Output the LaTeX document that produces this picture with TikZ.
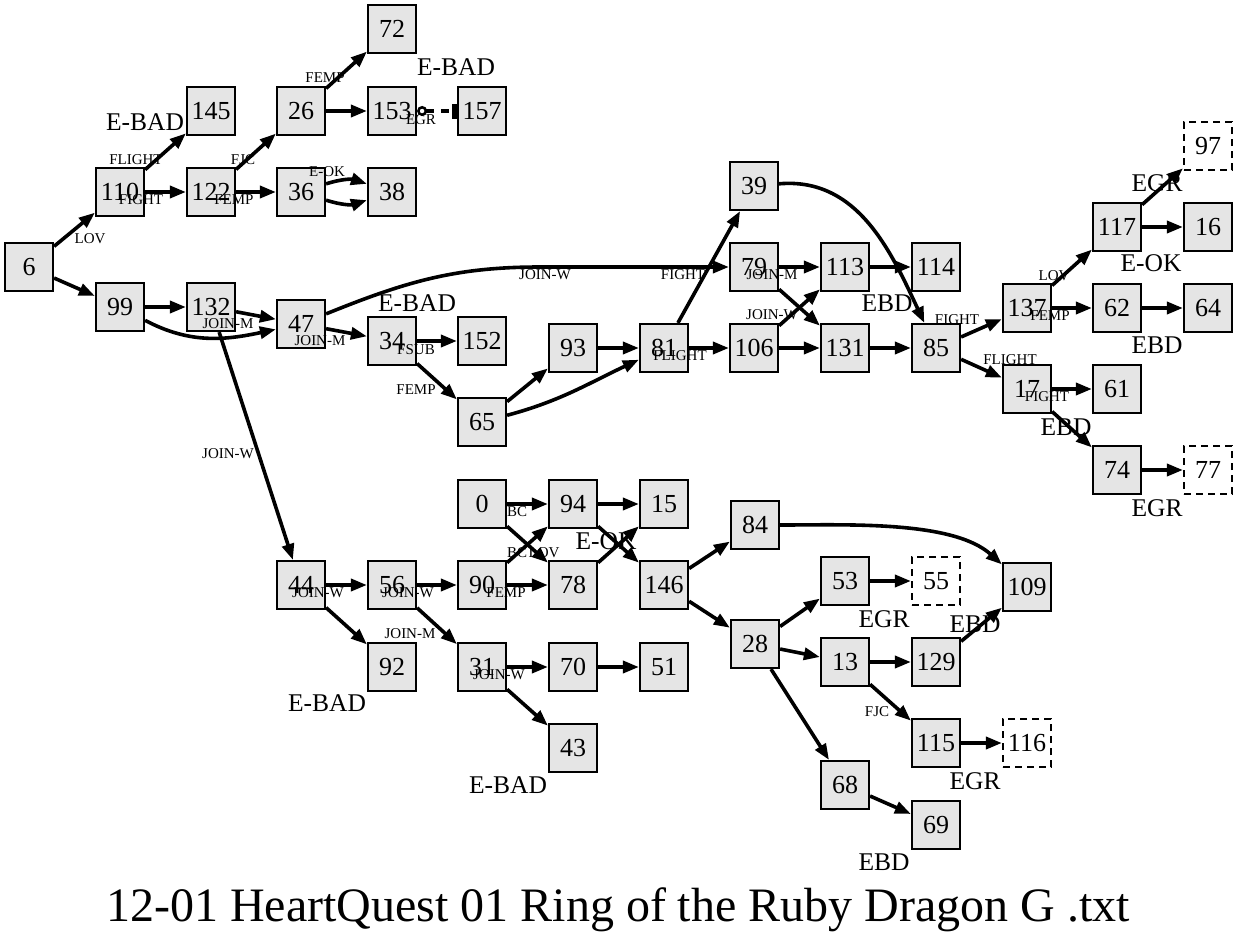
\documentclass[tikz,border=0pt]{standalone}
\usepackage{fontspec}
\setmainfont{Liberation Serif}
\usetikzlibrary{arrows.meta}
\begin{document}
\begin{tikzpicture}[x=1pt,y=-1pt,
  box/.style={draw,line width=2.2pt,fill=gray!20,minimum width=48pt,minimum height=48pt,inner sep=0pt,font=\fontsize{26}{26}\selectfont},
  dbox/.style={draw,line width=2.2pt,dash pattern=on 7pt off 5pt,fill=white,minimum width=48pt,minimum height=48pt,inner sep=0pt,font=\fontsize{26}{26}\selectfont},
  conn/.style={line width=3.6pt,-{Triangle[length=16pt,width=12pt]}},
  elab/.style={font=\fontsize{15}{15}\selectfont,inner sep=0pt},
  xlab/.style={font=\fontsize{25.5}{25.5}\selectfont,inner sep=0pt}]
\useasboundingbox (0,0) rectangle (1237,940);
% nodes
\node[box] (n6) at (29,267) {6};
\node[box] (n110) at (120,192) {110};
\node[box] (n145) at (211,111) {145};
\node[box] (n122) at (211,192) {122};
\node[box] (n26) at (301,111) {26};
\node[box] (n36) at (301,192) {36};
\node[box] (n72) at (392,29) {72};
\node[box] (n153) at (392,111) {153};
\node[box] (n157) at (482,111) {157};
\node[box] (n38) at (392,192) {38};
\node[box] (n99) at (120,307) {99};
\node[box] (n132) at (211,307) {132};
\node[box] (n47) at (301,324) {47};
\node[box] (n34) at (392,341) {34};
\node[box] (n152) at (482,341) {152};
\node[box] (n65) at (482,422) {65};
\node[box] (n93) at (573,348) {93};
\node[box] (n81) at (664,348) {81};
\node[box] (n39) at (754,186) {39};
\node[box] (n79) at (754,267) {79};
\node[box] (n106) at (754,348) {106};
\node[box] (n113) at (845,267) {113};
\node[box] (n131) at (845,348) {131};
\node[box] (n114) at (936,267) {114};
\node[box] (n85) at (936,348) {85};
\node[box] (n137) at (1027,308) {137};
\node[box] (n17) at (1027,389) {17};
\node[box] (n117) at (1117,227) {117};
\node[box] (n62) at (1117,308) {62};
\node[box] (n61) at (1117,389) {61};
\node[box] (n74) at (1117,470) {74};
\node[dbox] (n97) at (1208,146) {97};
\node[box] (n16) at (1208,227) {16};
\node[box] (n64) at (1208,308) {64};
\node[dbox] (n77) at (1208,470) {77};
\node[box] (n0) at (482,504) {0};
\node[box] (n94) at (573,504) {94};
\node[box] (n15) at (664,504) {15};
\node[box] (n44) at (301,585) {44};
\node[box] (n56) at (392,585) {56};
\node[box] (n90) at (482,585) {90};
\node[box] (n78) at (573,585) {78};
\node[box] (n146) at (664,585) {146};
\node[box] (n92) at (392,667) {92};
\node[box] (n31) at (482,667) {31};
\node[box] (n70) at (573,667) {70};
\node[box] (n51) at (664,667) {51};
\node[box] (n43) at (573,748) {43};
\node[box] (n84) at (755,525) {84};
\node[box] (n53) at (845,581) {53};
\node[dbox] (n55) at (936,581) {55};
\node[box] (n109) at (1027,587) {109};
\node[box] (n28) at (755,644) {28};
\node[box] (n13) at (845,662) {13};
\node[box] (n129) at (936,662) {129};
\node[box] (n115) at (936,743) {115};
\node[dbox] (n116) at (1027,743) {116};
\node[box] (n68) at (845,785) {68};
\node[box] (n69) at (936,825) {69};
\coordinate (c47) at (540,267);
% edges
\draw[conn] (n6) -- (n110);
\draw[conn] (n6) -- (n99);
\draw[conn] (n110) -- (n145);
\draw[conn] (n110) -- (n122);
\draw[conn] (n122) -- (n26);
\draw[conn] (n122) -- (n36);
\draw[conn] (n26) -- (n72);
\draw[conn] (n26) -- (n153);
\draw[line width=3.6pt,dash pattern=on 8pt off 7pt,{Circle[open,length=10pt,width=10pt,line width=2.5pt]}-{Rectangle[length=5pt,width=15pt]}] (n153) -- (n157);
\draw[conn] (n36) to[bend left=18] (n38);
\draw[conn] (n36) to[bend right=18] (n38);
\draw[conn] (n99) -- (n132);
\draw[conn] (n99) to[out=-28,in=192] (n47);
\draw[conn] (n132) -- (n47);
\draw[conn] (n132) -- (n44);
\draw[conn] (n47) to[out=22,in=180] (c47) -- (n79);
\draw[conn] (n47) -- (n34);
\draw[conn] (n34) -- (n152);
\draw[conn] (n34) -- (n65);
\draw[conn] (n65) -- (n93);
\draw[conn] (n65) to[out=15,in=205] (n81);
\draw[conn] (n93) -- (n81);
\draw[conn] (n81) -- (n39);
\draw[conn] (n81) -- (n106);
\draw[conn] (n79) -- (n113);
\draw[conn] (n79) -- (n131);
\draw[conn] (n106) -- (n113);
\draw[conn] (n106) -- (n131);
\draw[conn] (n113) -- (n114);
\draw[conn] (n39) to[out=5,in=115] (n85);
\draw[conn] (n131) -- (n85);
\draw[conn] (n85) -- (n137);
\draw[conn] (n85) -- (n17);
\draw[conn] (n137) -- (n117);
\draw[conn] (n137) -- (n62);
\draw[conn] (n117) -- (n97);
\draw[conn] (n117) -- (n16);
\draw[conn] (n62) -- (n64);
\draw[conn] (n17) -- (n61);
\draw[conn] (n17) -- (n74);
\draw[conn] (n74) -- (n77);
\draw[conn] (n44) -- (n56);
\draw[conn] (n44) -- (n92);
\draw[conn] (n56) -- (n90);
\draw[conn] (n56) -- (n31);
\draw[conn] (n90) -- (n94);
\draw[conn] (n90) -- (n78);
\draw[conn] (n0) -- (n94);
\draw[conn] (n0) -- (n78);
\draw[conn] (n94) -- (n15);
\draw[conn] (n94) -- (n146);
\draw[conn] (n78) -- (n15);
\draw[conn] (n31) -- (n70);
\draw[conn] (n31) -- (n43);
\draw[conn] (n70) -- (n51);
\draw[conn] (n146) -- (n84);
\draw[conn] (n146) -- (n28);
\draw[conn] (n84) to[out=0,in=138,looseness=0.75] (n109);
\draw[conn] (n28) -- (n53);
\draw[conn] (n28) -- (n13);
\draw[conn] (n28) -- (n68);
\draw[conn] (n53) -- (n55);
\draw[conn] (n13) -- (n129);
\draw[conn] (n13) -- (n115);
\draw[conn] (n129) -- (n109);
\draw[conn] (n115) -- (n116);
\draw[conn] (n68) -- (n69);
% edge labels
\node[elab] (l1) at (90,239) {LOV};
\node[elab] (l2) at (136,160) {FLIGHT};
\node[elab] (l3) at (141,200) {FIGHT};
\node[elab] (l4) at (243,160) {FJC};
\node[elab] (l5) at (234,200) {FEMP};
\node[elab] (l6) at (325,78) {FEMP};
\node[elab] (l7) at (421,120) {EGR};
\node[elab] (l8) at (327,172) {E-OK};
\node[elab] (l9) at (228,324) {JOIN-M};
\node[elab] (l10) at (320,341) {JOIN-M};
\node[elab] (l11) at (228,454) {JOIN-W};
\node[elab] (l12) at (416,350) {FSUB};
\node[elab] (l13) at (416,390) {FEMP};
\node[elab] (l14) at (545,275) {JOIN-W};
\node[elab] (l15) at (683,275) {FIGHT};
\node[elab] (l16) at (772,275) {JOIN-M};
\node[elab] (l17) at (772,315) {JOIN-W};
\node[elab] (l18) at (680,356) {FLIGHT};
\node[elab] (l19) at (957,320) {FIGHT};
\node[elab] (l20) at (1010,360) {FLIGHT};
\node[elab] (l21) at (1054,276) {LOV};
\node[elab] (l22) at (1050,316) {FEMP};
\node[elab] (l23) at (1047,397) {FIGHT};
\node[elab] (l24) at (318,593) {JOIN-W};
\node[elab] (l25) at (408,593) {JOIN-W};
\node[elab] (l26) at (506,593) {FEMP};
\node[elab] (l27) at (410,634) {JOIN-M};
\node[elab] (l28) at (499,675) {JOIN-W};
\node[elab] (l29) at (517,512) {BC};
\node[elab] (l30) at (517,553) {BC};
\node[elab] (l31) at (544,553) {LOV};
\node[elab] (l32) at (877,712) {FJC};
% xlabels
\node[xlab] (x1) at (145,122) {E-BAD};
\node[xlab] (x2) at (456,67) {E-BAD};
\node[xlab] (x3) at (417,303) {E-BAD};
\node[xlab] (x4) at (887,303) {EBD};
\node[xlab] (x5) at (1157,183) {EGR};
\node[xlab] (x6) at (1151,263) {E-OK};
\node[xlab] (x7) at (1157,345) {EBD};
\node[xlab] (x8) at (1066,427) {EBD};
\node[xlab] (x9) at (1157,508) {EGR};
\node[xlab] (x10) at (606,541) {E-OK};
\node[xlab] (x11) at (327,703) {E-BAD};
\node[xlab] (x12) at (508,785) {E-BAD};
\node[xlab] (x13) at (884,619) {EGR};
\node[xlab] (x14) at (975,624) {EBD};
\node[xlab] (x15) at (975,781) {EGR};
\node[xlab] (x16) at (884,862) {EBD};
% title
\node[anchor=base,inner sep=0pt,font=\fontsize{48}{48}\selectfont] (title) at (618,921) {12-01 HeartQuest 01 Ring of the Ruby Dragon G .txt};
\end{tikzpicture}
\end{document}
